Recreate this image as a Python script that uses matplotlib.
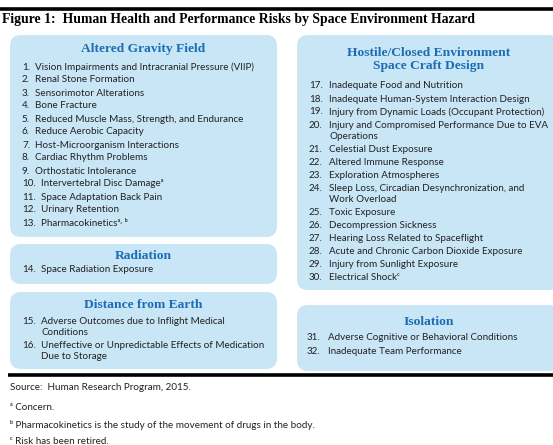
import matplotlib.pyplot as plt
from matplotlib.patches import FancyBboxPatch

# data: hazard groups and their risks
title = "Figure 1:  Human Health and Performance Risks by Space Environment Hazard"

gravity_items = [
    "Vision Impairments and Intracranial Pressure (VIIP)",
    "Renal Stone Formation",
    "Sensorimotor Alterations",
    "Bone Fracture",
    "Reduced Muscle Mass, Strength, and Endurance",
    "Reduce Aerobic Capacity",
    "Host-Microorganism Interactions",
    "Cardiac Rhythm Problems",
    "Orthostatic Intolerance",
    "Intervertebral Disc Damage\u1d43",
    "Space Adaptation Back Pain",
    "Urinary Retention",
    "Pharmacokinetics\u1d43\u02d2 \u1d47",
]
radiation_items = ["Space Radiation Exposure"]
distance_items = [
    "Adverse Outcomes due to Inflight Medical\nConditions",
    "Uneffective or Unpredictable Effects of Medication\nDue to Storage",
]
hostile_items = [
    "Inadequate Food and Nutrition",
    "Inadequate Human-System Interaction Design",
    "Injury from Dynamic Loads (Occupant Protection)",
    "Injury and Compromised Performance Due to EVA\nOperations",
    "Celestial Dust Exposure",
    "Altered Immune Response",
    "Exploration Atmospheres",
    "Sleep Loss, Circadian Desynchronization, and\nWork Overload",
    "Toxic Exposure",
    "Decompression Sickness",
    "Hearing Loss Related to Spaceflight",
    "Acute and Chronic Carbon Dioxide Exposure",
    "Injury from Sunlight Exposure",
    "Electrical Shock\u1d9c",
]
isolation_items = [
    "Adverse Cognitive or Behavioral Conditions",
    "Inadequate Team Performance",
]
footnotes = [
    "Source:  Human Research Program, 2015.",
    "\u1d43 Concern.",
    "\u1d47 Pharmacokinetics is the study of the movement of drugs in the body.",
    "\u1d9c Risk has been retired.",
]

body_font = ["Lato", "DejaVu Sans"]
head_font = ["Liberation Serif", "DejaVu Serif"]
box_color = "#c9e6f7"
head_color = "#1c6db3"
fs = 7.1

fig = plt.figure(figsize=(5.53, 4.45), dpi=100)
ax = fig.add_axes([0, 0, 1, 1])
ax.set_xlim(0, 553)
ax.set_ylim(445, 0)
ax.axis("off")

# rules and title
ax.plot([0, 553], [9, 9], color="black", lw=2.6, solid_capstyle="butt")
ax.plot([8, 553], [375, 375], color="black", lw=2.6, solid_capstyle="butt")
ax.text(2, 19, title, fontsize=9.9, fontweight="bold", family=head_font,
        va="center", ha="left")


def draw_box(x0, y0, x1, y1, heads, head_y, items, start_num, first_y,
             num_x, txt_x, step=13.0, wrap_step=11.3, txt_x2=None):
    box = FancyBboxPatch((x0, y0), x1 - x0, y1 - y0,
                         boxstyle="round,pad=0,rounding_size=11",
                         fc=box_color, ec="none")
    ax.add_patch(box)
    cx = (x0 + x1) / 2
    for i, h in enumerate(heads):
        ax.text(cx, head_y + i * 13, h, fontsize=9.7, fontweight="bold",
                family=head_font, color=head_color, ha="center", va="center")
    y = first_y
    for k, item in enumerate(items):
        n = start_num + k
        tx = txt_x if (n < 10 or txt_x2 is None) else txt_x2
        ax.text(num_x, y, "%d." % n, fontsize=fs,
                family=body_font, color="#222222", ha="left", va="center")
        for j, line in enumerate(item.split("\n")):
            ax.text(tx, y + j * wrap_step, line, fontsize=fs,
                    family=body_font, color="#222222", ha="left", va="center")
        y += step + (len(item.split("\n")) - 1) * wrap_step


draw_box(10, 35, 277, 237, ["Altered Gravity Field"], 49, gravity_items, 1, 67,
         22, 35, txt_x2=41)
draw_box(10, 244, 277, 284, ["Radiation"], 256, radiation_items, 14, 269,
         22, 41)
draw_box(10, 292, 277, 369, ["Distance from Earth"], 305, distance_items, 15, 321,
         22, 41)
draw_box(297, 35, 560, 290, ["Hostile/Closed Environment", "Space Craft Design"], 53,
         hostile_items, 17, 86, 309, 329)
draw_box(297, 305, 560, 371, ["Isolation"], 322, isolation_items, 31, 338,
         307, 328, step=14)

# footer
for text, y in zip(footnotes, [387, 407, 425, 441]):
    ax.text(10, y, text, fontsize=fs, family=body_font, color="#222222",
            ha="left", va="center")

plt.savefig("out.png", dpi=100)
